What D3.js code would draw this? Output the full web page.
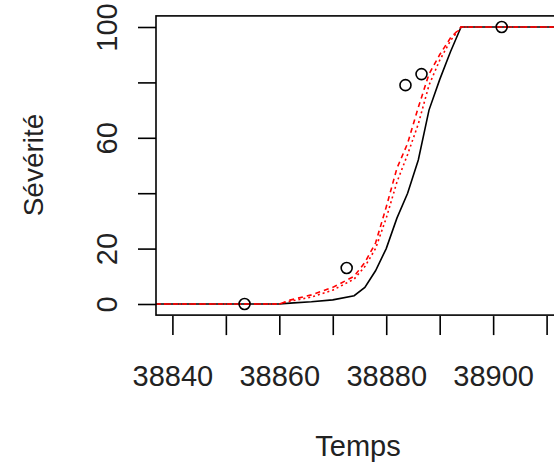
<!DOCTYPE html>
<html>
<head>
<meta charset="utf-8">
<script src="https://cdn.jsdelivr.net/npm/d3@7"></script>
<style>
  body { margin: 0; background: #fff; }
  svg { display: block; }
</style>
</head>
<body>
<svg class="severityChart" width="554" height="468"></svg>
<script>
// observed points
const obsTime = [38853.5, 38872.6, 38883.6, 38886.6, 38901.6];
const obsSev = [0, 13, 79, 83, 100];

// model curves
const timeGrid = [38830, 38860, 38862, 38866, 38870, 38874, 38876, 38878, 38880, 38882, 38884, 38886, 38888, 38890, 38892, 38894, 38920];
const fitBlack = [0, 0, 0.3, 0.8, 1.5, 3, 6, 12, 20, 31, 40, 52, 70, 81, 91, 100, 100];
const fitRedDash = [0, 0, 1.4, 3.3, 6, 10, 15, 22, 35, 49, 58, 71, 83, 90, 96, 100, 100];
const fitRedDot = [0, 0, 1, 2.5, 5, 9, 13.5, 20, 31, 44, 54, 65, 79, 88, 95, 100, 100];

const xTicks = [38840, 38850, 38860, 38870, 38880, 38890, 38900, 38910];
const xTickLabels = ['38840', '', '38860', '', '38880', '', '38900', ''];
const yTicks = [0, 20, 40, 60, 80, 100];
const yTickLabels = ['0', '20', '', '60', '', '100'];

const svg = d3.select('.severityChart');
const font = '"Liberation Sans", Arial, sans-serif';

const xScale = d3.scaleLinear().domain([38840, 38910]).range([172.4, 546.6]);
const yScale = d3.scaleLinear().domain([0, 100]).range([304, 27]);

const box = { left: 156, top: 15.9, right: 570, bottom: 315.1 };

svg.append('clipPath').attr('id', 'plotClip')
  .append('rect')
    .attr('x', box.left).attr('y', box.top)
    .attr('width', box.right - box.left).attr('height', box.bottom - box.top);

const plot = svg.append('g').attr('clip-path', 'url(#plotClip)');

const line = d3.line()
  .x(d => xScale(d[0]))
  .y(d => yScale(d[1]));

const series = [
  { values: fitBlack, color: '#000', dash: null },
  { values: fitRedDot, color: '#ff0000', dash: '2,3' },
  { values: fitRedDash, color: '#ff0000', dash: '5,4' }
];

series.forEach(s => {
  plot.append('path')
    .datum(timeGrid.map((t, i) => [t, s.values[i]]))
    .attr('d', line)
    .attr('fill', 'none')
    .attr('stroke', s.color)
    .attr('stroke-width', 1.6)
    .attr('stroke-dasharray', s.dash);
});

plot.selectAll('circle')
  .data(obsTime.map((t, i) => [t, obsSev[i]]))
  .enter().append('circle')
    .attr('cx', d => xScale(d[0]))
    .attr('cy', d => yScale(d[1]))
    .attr('r', 5.5)
    .attr('fill', 'none')
    .attr('stroke', '#000')
    .attr('stroke-width', 1.6);

// box
svg.append('rect')
  .attr('x', box.left).attr('y', box.top)
  .attr('width', box.right - box.left).attr('height', box.bottom - box.top)
  .attr('fill', 'none')
  .attr('stroke', '#000')
  .attr('stroke-width', 1.6);

//x axis
const xAxis = svg.append('g')
  .attr('transform', 'translate(0,' + (box.bottom + 1) + ')')
  .call(d3.axisBottom(xScale).tickValues(xTicks).tickSize(19).tickPadding(30)
    .tickFormat((d, i) => xTickLabels[i]));
xAxis.select('.domain').remove();
xAxis.selectAll('line').attr('stroke', '#000').attr('stroke-width', 1.6);
xAxis.selectAll('text')
  .attr('fill', '#222')
  .attr('font-family', font)
  .attr('font-size', 29)
  .attr('dy', 0)
  .attr('y', 70);

//y axis
const yAxis = svg.append('g')
  .attr('transform', 'translate(' + box.left + ',0)')
  .call(d3.axisLeft(yScale).tickValues(yTicks).tickSize(18)
    .tickFormat((d, i) => yTickLabels[i]));
yAxis.select('.domain').remove();
yAxis.selectAll('line').attr('stroke', '#000').attr('stroke-width', 1.6);
yAxis.selectAll('text')
  .attr('fill', '#222')
  .attr('font-family', font)
  .attr('font-size', 29)
  .attr('x', null).attr('y', null).attr('dy', null)
  .attr('text-anchor', 'middle')
  .attr('transform', 'translate(-39,0) rotate(-90)');

// titles
svg.append('text')
  .attr('x', 358).attr('y', 456)
  .attr('text-anchor', 'middle')
  .attr('font-family', font).attr('font-size', 29)
  .attr('fill', '#222')
  .text('Temps');

svg.append('text')
  .attr('transform', 'translate(43,165) rotate(-90)')
  .attr('text-anchor', 'middle')
  .attr('font-family', font).attr('font-size', 28)
  .attr('fill', '#222')
  .text('Sévérité');
</script>
</body>
</html>
